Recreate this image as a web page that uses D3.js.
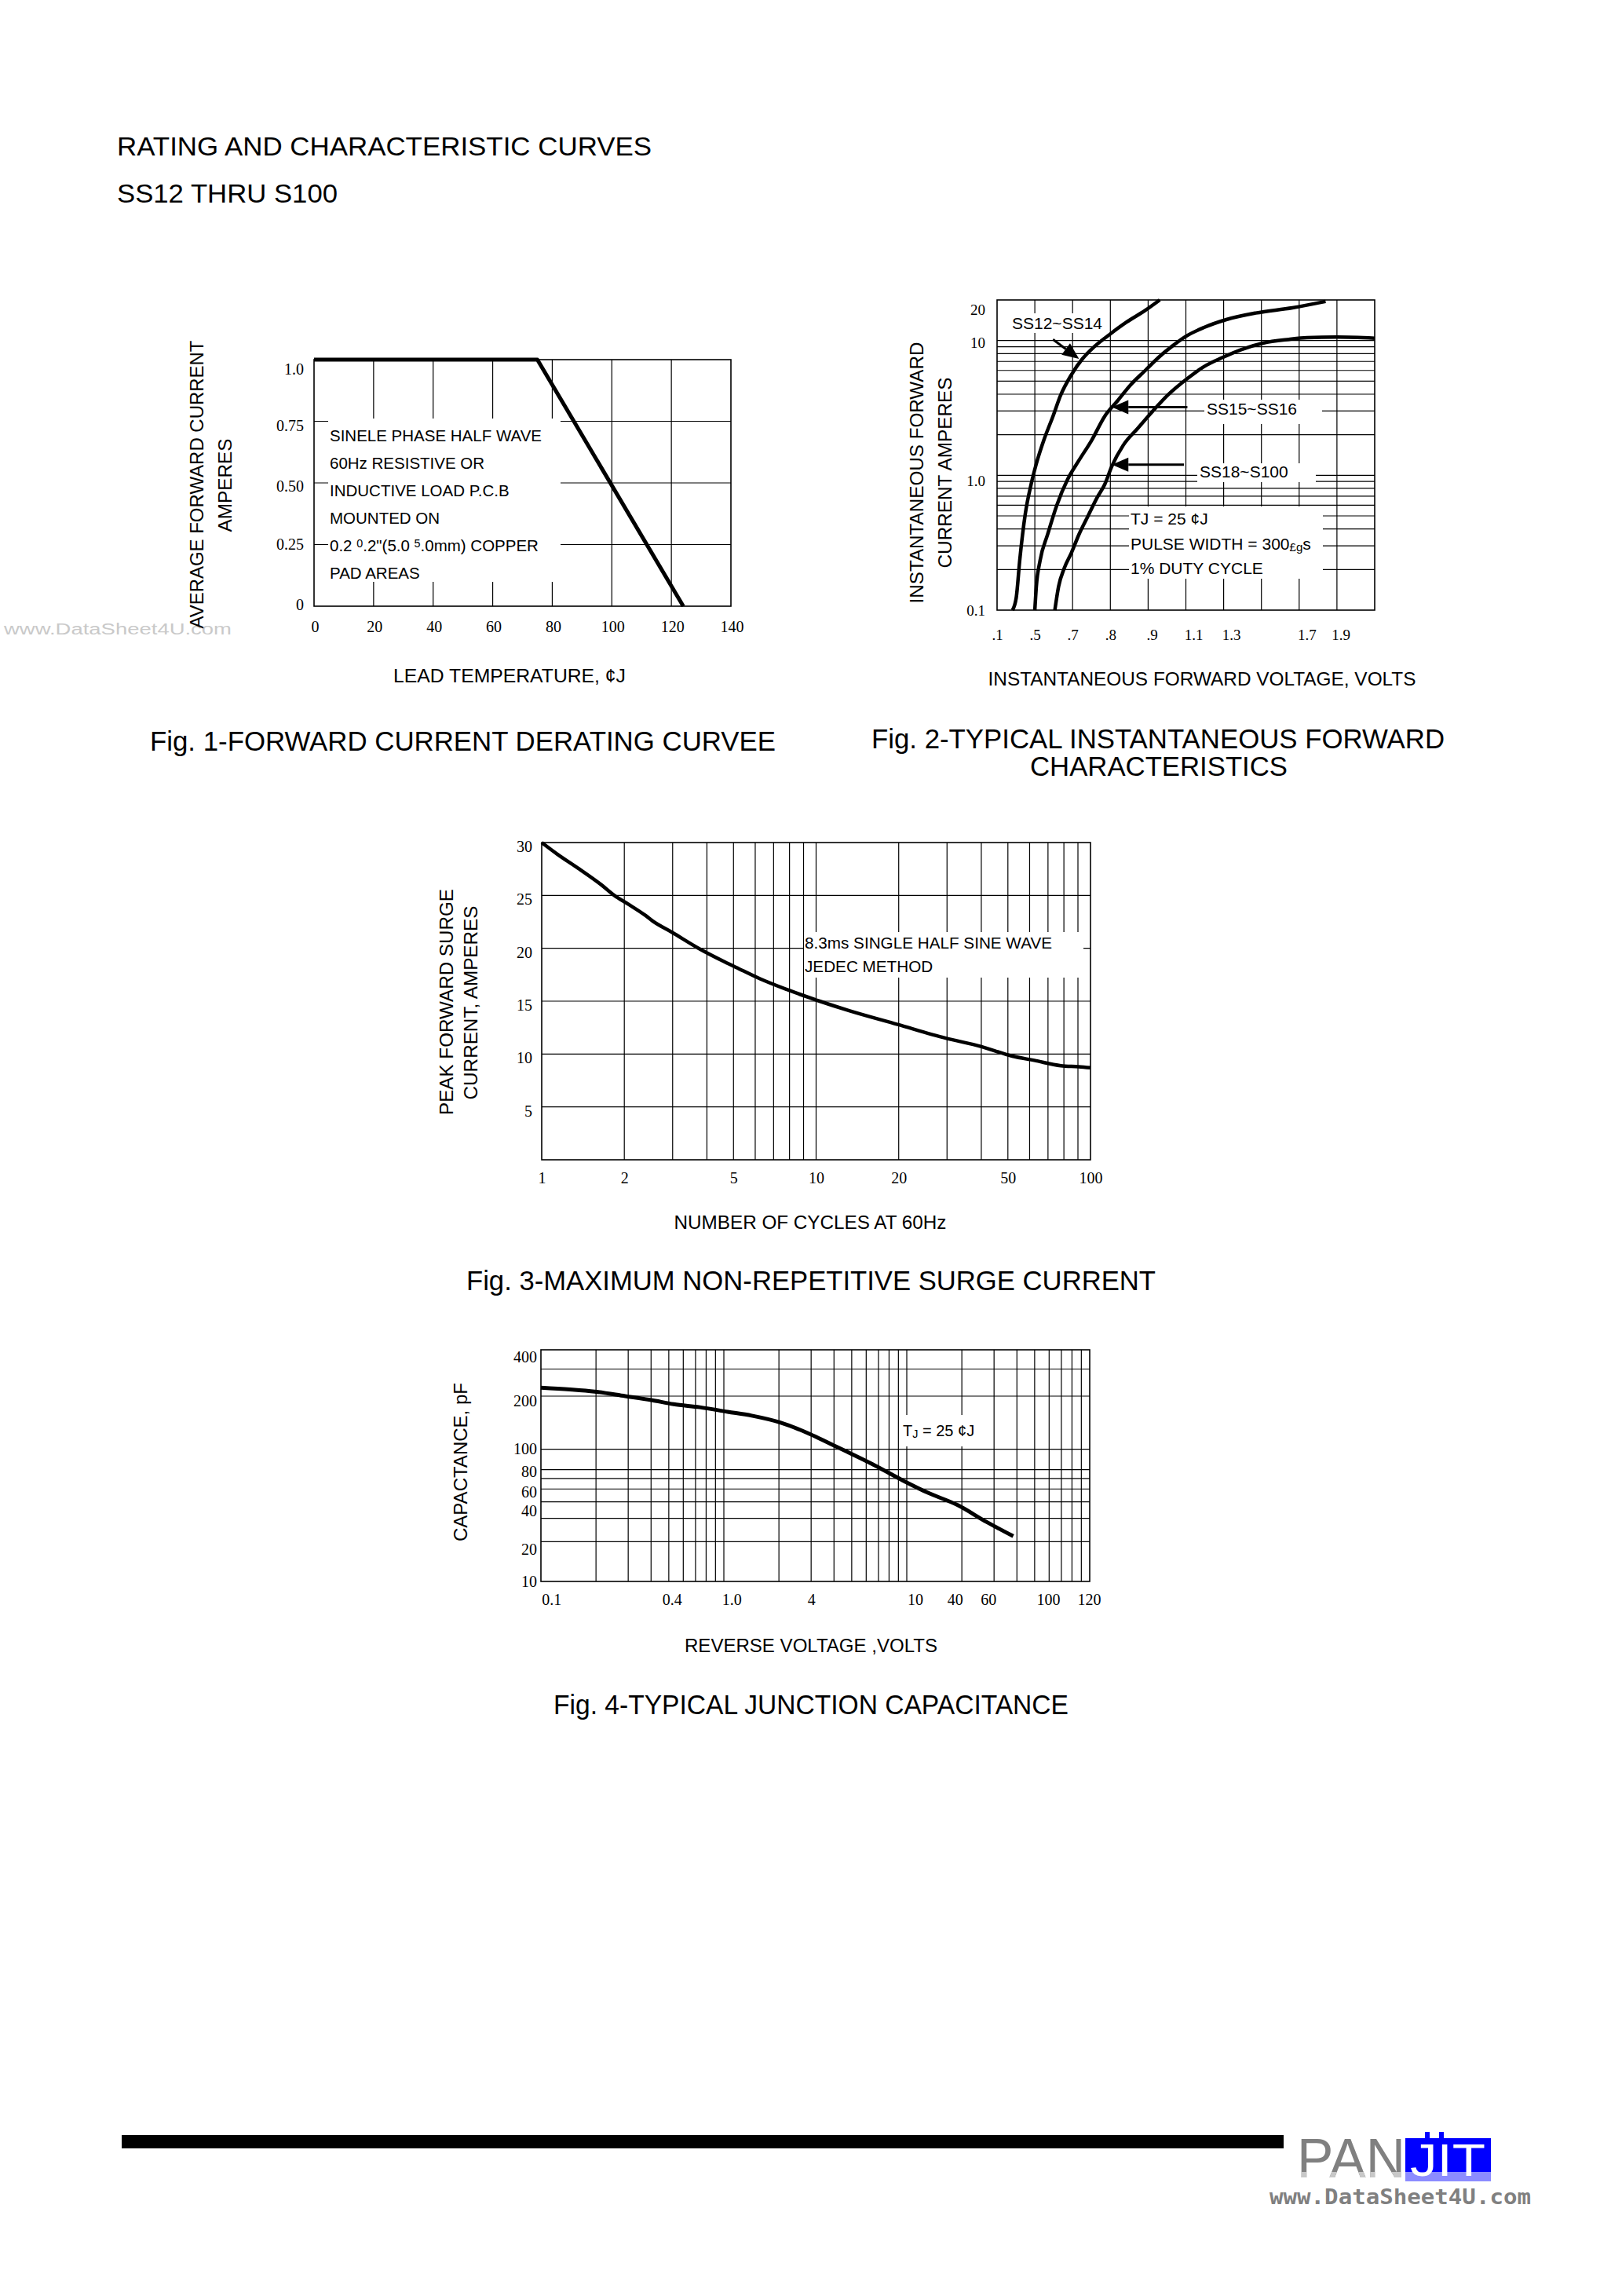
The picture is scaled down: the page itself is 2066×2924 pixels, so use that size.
<!DOCTYPE html>
<html><head><meta charset="utf-8">
<script src="https://cdn.jsdelivr.net/npm/d3@7/dist/d3.min.js"></script>
<style>body{margin:0;background:#fff}svg{display:block}</style>
</head><body>
<svg id="page" width="2066" height="2924"></svg>
<script>
// ================= DATA =================
const headerLines = ["RATING AND CHARACTERISTIC CURVES", "SS12 THRU S100"];
const watermark = "www.DataSheet4U.com";

// Fig 1 – forward current derating
const fig1Temperature = [0, 75, 124];
const fig1Current = [1.0, 1.0, 0];
const fig1XTicks = [0, 20, 40, 60, 80, 100, 120, 140];
const fig1YGrid = [0.25, 0.5, 0.75];
const fig1YTickPositions = [0.006, 0.252, 0.487, 0.732, 0.962];
const fig1YTickLabels = ["0", "0.25", "0.50", "0.75", "1.0"];
const fig1Note = [
  "SINELE PHASE HALF WAVE",
  "60Hz RESISTIVE OR",
  "INDUCTIVE LOAD P.C.B",
  "MOUNTED ON",
  [{t:"0.2  "},{t:"0",sup:true},{t:".2\"(5.0  "},{t:"5",sup:true},{t:".0mm) COPPER"}],
  "PAD AREAS"
];
const fig1XTitle = "LEAD TEMPERATURE, \u00A2J";
const fig1YTitle = ["AVERAGE FORWARD CURRENT", "AMPERES"];
const fig1Caption = "Fig. 1-FORWARD CURRENT DERATING CURVEE";

// Fig 2 – forward characteristics (x in grid divisions of the printed axis)
const fig2GridPositions = [1,2,3,4,5,6,7,8,9];
const fig2XTickPositions = [0, 1, 2, 3, 4.1, 5.2, 6.2, 8.2, 9.1];
const fig2XTickLabels = [".1", ".5", ".7", ".8", ".9", "1.1", "1.3", "1.7", "1.9"];
const fig2YTickPositions = [0.1, 0.914, 9.68, 17.0];
const fig2YTickLabels = ["0.1", "1.0", "10", "20"];
const fig2YGrid = [0.2,0.3,0.4,0.5,0.6,0.7,0.8,0.9,1,2,3,4,5,6,7,8,9,10];
const ss12X = [0.41,0.51,0.60,0.75,0.90,1.04,1.24,1.48,1.68,1.97,2.26,2.56,3.00,3.43,3.92,4.31];
const ss12Y = [0.1,0.125,0.234,0.523,0.855,1.22,1.83,2.74,3.91,5.59,7.31,8.93,11.2,13.7,16.7,20];
const ss15X = [1.00,1.04,1.14,1.34,1.58,1.87,2.16,2.51,2.85,3.19,3.53,3.92,4.31,4.65,4.99,5.48,6.07,6.85,7.82,8.70];
const ss15Y = [0.1,0.150,0.234,0.365,0.598,0.935,1.28,1.83,2.74,3.57,4.67,5.98,7.64,9.14,10.7,12.5,14.3,16.0,17.5,19.5];
const ss18X = [1.53,1.63,1.78,1.97,2.17,2.41,2.65,2.85,3.04,3.34,3.73,4.12,4.51,5.00,5.48,5.97,6.46,7.04,7.73,8.21,9.00,10.0];
const ss18Y = [0.1,0.150,0.205,0.267,0.365,0.5,0.684,0.855,1.17,1.67,2.24,2.99,3.91,5.12,6.40,7.48,8.55,9.57,10.2,10.5,10.6,10.4];
const fig2SeriesNames = ["SS12~SS14", "SS15~SS16", "SS18~S100"];
const fig2ArrowFrom = [[1.48,10.2],[5.04,3.2],[4.95,1.2]];
const fig2ArrowTo   = [[2.17,7.31],[3.04,3.2],[3.04,1.2]];
const fig2Note = ["TJ = 25 \u00A2J", [{t:"PULSE WIDTH = 300"},{t:"\u00A3g",small:true},{t:"s"}], "1% DUTY CYCLE"];
const fig2XTitle = "INSTANTANEOUS FORWARD VOLTAGE, VOLTS";
const fig2YTitle = ["INSTANTANEOUS FORWARD", "CURRENT AMPERES"];
const fig2Caption = ["Fig. 2-TYPICAL INSTANTANEOUS FORWARD", "CHARACTERISTICS"];

// Fig 3 – surge current
const fig3Cycles = [1,1.14,1.37,1.65,1.84,2.06,2.39,2.53,2.99,3.73,4.66,5.11,6.27,7.83,10.3,13.2,19.8,29.7,40,51.9,62.4,78,90.5,100];
const fig3Current = [30,28.9,27.5,26.0,25.0,24.2,23.1,22.6,21.5,20.0,18.7,18.2,17.1,16.1,15.0,14.1,12.8,11.5,10.7,9.8,9.4,8.9,8.8,8.7];
const fig3XTicks = [1, 2, 5, 10, 20, 50, 100];
const fig3YTicks = [5, 10, 15, 20, 25, 30];
const fig3XGrid = [2,3,4,5,6,7,8,9,10,20,30,40,50,60,70,80,90];
const fig3YGrid = [5, 10, 15, 20, 25];
const fig3Note = ["8.3ms SINGLE HALF SINE WAVE", "JEDEC METHOD"];
const fig3XTitle = "NUMBER OF CYCLES AT 60Hz";
const fig3YTitle = ["PEAK FORWARD SURGE", "CURRENT, AMPERES"];
const fig3Caption = "Fig. 3-MAXIMUM NON-REPETITIVE SURGE CURRENT";

// Fig 4 – junction capacitance
const fig4Voltage = [0.1,0.144,0.197,0.289,0.401,0.532,0.738,1.05,1.42,2.02,2.95,3.77,4.69,6.50,9.52,13.2,18.8,27.5,38.2];
const fig4Capacitance = [227,221,214,200,190,180,173,163,155,142,122,108,96,77,58,46.5,38,28,22];
const fig4YDomain = [10, 100, 200, 400];
const fig4YGrid = [20,30,40,50,60,70,100,200,300];
const fig4YTickPositions = [358, 187, 100, 67.8, 47.5, 34.2, 17.6, 10];
const fig4YTickLabels = ["400","200","100","80","60","40","20","10"];
const fig4XGrid = [0.2,0.3,0.4,0.5,0.6,0.7,0.8,0.9,1,2,3,4,5,6,7,8,9,10,20,30,40,50,60,70,80,90];
const fig4XTickPositions = [0.114,0.52,1.10,3.0,11.1,18.3,27.9,59.3,99];
const fig4XTickLabels = ["0.1","0.4","1.0","4","10","40","60","100","120"];
const fig4XTitle = "REVERSE VOLTAGE ,VOLTS";
const fig4YTitle = "CAPACTANCE, pF";
const fig4Caption = "Fig. 4-TYPICAL JUNCTION CAPACITANCE";

// ================= DRAWING =================
const SANS = "'Liberation Sans', Arial, Helvetica, sans-serif";
const SERIF = "'Liberation Serif', 'Times New Roman', serif";
const svg = d3.select("#page");
svg.append("rect").attr("width",2066).attr("height",2924).attr("fill","#fff");

function addText(g, x, y, s, o = {}) {
  const t = g.append("text").attr("x", x).attr("y", y)
    .attr("font-family", o.family || SANS).attr("font-size", o.size || 20)
    .attr("fill", o.fill || "#000").attr("text-anchor", o.anchor || "start");
  if (o.weight) t.attr("font-weight", o.weight);
  if (typeof s === "string") t.text(s);
  else s.forEach(seg => {
    const sp = t.append("tspan").text(seg.t);
    if (seg.sup) sp.attr("font-size", (o.size || 20) * 0.7).attr("baseline-shift", "35%");
    if (seg.small) sp.attr("font-size", (o.size || 20) * 0.72).attr("baseline-shift", "-12%");
  });
  if (o.len) t.attr("textLength", o.len).attr("lengthAdjust", "spacingAndGlyphs");
  return t;
}
function vTitle(g, cx, cy, s, len) {
  const t = g.append("text").attr("transform", `translate(${cx + 8.6},${cy}) rotate(-90)`)
    .attr("text-anchor", "middle").attr("font-family", SANS).attr("font-size", 24).text(s);
  if (len) t.attr("textLength", len).attr("lengthAdjust", "spacingAndGlyphs");
}
function gridV(g, vals, x, top, bottom) {
  g.append("g").selectAll("line").data(vals).join("line")
    .attr("x1", d => x(d)).attr("x2", d => x(d)).attr("y1", top).attr("y2", bottom)
    .attr("stroke", "#000").attr("stroke-width", 1.2);
}
function gridH(g, vals, y, left, right) {
  g.append("g").selectAll("line").data(vals).join("line")
    .attr("y1", d => y(d)).attr("y2", d => y(d)).attr("x1", left).attr("x2", right)
    .attr("stroke", "#000").attr("stroke-width", 1.2);
}
function frame(g, f) {
  g.append("rect").attr("x", f.left).attr("y", f.top).attr("width", f.right - f.left)
    .attr("height", f.bottom - f.top).attr("fill", "none").attr("stroke", "#000").attr("stroke-width", 1.6);
}
function whiteBox(g, x0, y0, x1, y1) {
  g.append("rect").attr("x", x0).attr("y", y0).attr("width", x1 - x0).attr("height", y1 - y0).attr("fill", "#fff");
}
function yLabels(g, scale, vals, labels, xRight, dy, size) {
  const a = g.append("g").attr("transform", `translate(${xRight},${dy})`)
    .call(d3.axisLeft(scale).tickValues(vals).tickFormat((d, i) => labels[i]).tickSize(0).tickPadding(0));
  a.select(".domain").remove();
  a.selectAll("text").attr("font-family", SERIF).attr("font-size", size).attr("fill", "#000");
}
function xLabels(g, scale, vals, labels, yTop, dx, pad, size) {
  const a = g.append("g").attr("transform", `translate(${dx},${yTop})`)
    .call(d3.axisBottom(scale).tickValues(vals).tickFormat((d, i) => labels[i]).tickSize(0).tickPadding(pad));
  a.select(".domain").remove();
  a.selectAll("text").attr("font-family", SERIF).attr("font-size", size).attr("fill", "#000");
}
function curve(g, xs, ys, x, y, w, c) {
  g.append("path").datum(d3.zip(xs, ys))
    .attr("d", d3.line().x(d => x(d[0])).y(d => y(d[1])).curve(c || d3.curveMonotoneX))
    .attr("fill", "none").attr("stroke", "#000").attr("stroke-width", w)
    .attr("stroke-linejoin", "round").attr("stroke-linecap", "butt");
}
function arrow(g, x1, y1, x2, y2) {
  const ang = Math.atan2(y2 - y1, x2 - x1), L = 21, W = 9;
  const bx = x2 - L * Math.cos(ang), by = y2 - L * Math.sin(ang);
  g.append("line").attr("x1", x1).attr("y1", y1).attr("x2", bx).attr("y2", by)
    .attr("stroke", "#000").attr("stroke-width", 3);
  const px = -Math.sin(ang) * W, py = Math.cos(ang) * W;
  g.append("path").attr("d", `M${x2},${y2}L${bx + px},${by + py}L${bx - px},${by - py}Z`).attr("fill", "#000");
}

// ---------- header & watermark ----------
addText(svg, 149, 198, headerLines[0], {size: 34, len: 681});
addText(svg, 149, 258, headerLines[1], {size: 34, len: 281});
addText(svg, 5, 808, watermark, {size: 20, fill: "#c9c9c9", len: 290});

// ---------- Fig 1 ----------
{
  const g = svg.append("g");
  const f = {left: 400, right: 931, top: 458, bottom: 772};
  const x = d3.scaleLinear().domain([0, 140]).range([f.left, f.right]);
  const y = d3.scaleLinear().domain([0, 1]).range([f.bottom, f.top]);
  gridV(g, fig1XTicks.slice(1, -1), x, f.top, f.bottom);
  gridH(g, fig1YGrid, y, f.left, f.right);
  frame(g, f);
  whiteBox(g, 418, 533, 714, 741);
  fig1Note.forEach((ln, i) => addText(g, 420, 562.4 + i * 34.9, ln, {size: 20.5}));
  yLabels(g, y, fig1YTickPositions, fig1YTickLabels, 387, 0, 20);
  xLabels(g, x, fig1XTicks, fig1XTicks.map(String), f.bottom, 1, 19, 20);
  curve(g, fig1Temperature, fig1Current, x, y, 5, d3.curveLinear);
  vTitle(g, 250, 617, fig1YTitle[0], 367);
  vTitle(g, 286, 618, fig1YTitle[1], 119);
  addText(g, 649, 868.6, fig1XTitle, {size: 24, anchor: "middle", len: 296});
  addText(g, 589.5, 956, fig1Caption, {size: 35, anchor: "middle", len: 797});
}

// ---------- Fig 2 ----------
{
  const g = svg.append("g");
  const f = {left: 1270, right: 1751, top: 382, bottom: 777};
  const x = d3.scaleLinear().domain([0, 10]).range([f.left, f.right]);
  const y = d3.scaleLog().domain([0.1, 20]).range([f.bottom, f.top]);
  gridV(g, fig2GridPositions, x, f.top, f.bottom);
  gridH(g, fig2YGrid, y, f.left, f.right);
  frame(g, f);
  whiteBox(g, 1287, 399, 1406, 424);
  whiteBox(g, 1534, 509, 1684, 540);
  whiteBox(g, 1525, 590, 1676, 614);
  whiteBox(g, 1438, 645, 1685, 737);
  addText(g, 1289, 418.5, fig2SeriesNames[0], {size: 21});
  addText(g, 1537, 528, fig2SeriesNames[1], {size: 21});
  addText(g, 1528, 608, fig2SeriesNames[2], {size: 21});
  fig2Note.forEach((ln, i) => addText(g, 1440, 668 + i * 31.7, ln, {size: 21}));
  yLabels(g, y, fig2YTickPositions, fig2YTickLabels, 1255, 0, 19);
  xLabels(g, x, fig2XTickPositions, fig2XTickLabels, f.bottom, 0, 25, 19);
  curve(g, ss12X, ss12Y, x, y, 4.5);
  curve(g, ss15X, ss15Y, x, y, 4.5);
  curve(g, ss18X, ss18Y, x, y, 4.5);
  fig2ArrowFrom.forEach((a, i) => arrow(g, x(a[0]), y(a[1]), x(fig2ArrowTo[i][0]), y(fig2ArrowTo[i][1])));
  vTitle(g, 1167, 602, fig2YTitle[0], 333);
  vTitle(g, 1203, 602, fig2YTitle[1], 243);
  addText(g, 1531, 872.6, fig2XTitle, {size: 24, anchor: "middle", len: 545});
  addText(g, 1475, 953, fig2Caption[0], {size: 35, anchor: "middle", len: 730});
  addText(g, 1476, 988, fig2Caption[1], {size: 35, anchor: "middle", len: 328});
}

// ---------- Fig 3 ----------
{
  const g = svg.append("g");
  const f = {left: 690, right: 1389, top: 1073, bottom: 1477};
  const x = d3.scaleLog().domain([1, 100]).range([f.left, f.right]);
  const y = d3.scaleLinear().domain([0, 30]).range([f.bottom, f.top]);
  gridV(g, fig3XGrid, x, f.top, f.bottom);
  gridH(g, fig3YGrid, y, f.left, f.right);
  frame(g, f);
  whiteBox(g, 1024, 1187, 1380, 1245);
  fig3Note.forEach((ln, i) => addText(g, 1025, 1207.5 + i * 30.7, ln, {size: 20.7}));
  yLabels(g, y, fig3YTicks, fig3YTicks.map(String), 678, 5, 20);
  xLabels(g, x, fig3XTicks, fig3XTicks.map(String), f.bottom, 0, 16, 20);
  curve(g, fig3Cycles, fig3Current, x, y, 4.5);
  vTitle(g, 568, 1276, fig3YTitle[0], 288);
  vTitle(g, 599, 1277, fig3YTitle[1], 247);
  addText(g, 1032, 1565.3, fig3XTitle, {size: 24, anchor: "middle", len: 347});
  addText(g, 1033, 1643, fig3Caption, {size: 35, anchor: "middle", len: 878});
}

// ---------- Fig 4 ----------
{
  const g = svg.append("g");
  const f = {left: 689, right: 1388, top: 1719, bottom: 2014};
  const h = f.bottom - f.top;
  const x = d3.scaleLog().domain([0.1, 100]).range([f.left, f.right]);
  const yStops = [0, 0.571, 0.80, 1];
  const y = d3.scaleLog().domain(fig4YDomain).range(yStops.map(p => f.bottom - p * h));
  gridV(g, fig4XGrid, x, f.top, f.bottom);
  gridH(g, fig4YGrid, y, f.left, f.right);
  frame(g, f);
  whiteBox(g, 1147, 1802, 1250, 1842);
  addText(g, 1150, 1829, [{t:"T"},{t:"J",small:true},{t:"  = 25 \u00A2J"}], {size: 20});
  yLabels(g, y, fig4YTickPositions, fig4YTickLabels, 684, 0, 20);
  xLabels(g, x, fig4XTickPositions, fig4XTickLabels, f.bottom, 0, 16, 20);
  curve(g, fig4Voltage, fig4Capacitance, x, y, 5);
  vTitle(g, 586, 1862, fig4YTitle, 202);
  addText(g, 1033, 2103.6, fig4XTitle, {size: 24, anchor: "middle", len: 322});
  addText(g, 1033, 2183, fig4Caption, {size: 35, anchor: "middle", len: 656});
}

// ---------- footer ----------
{
  const g = svg.append("g");
  g.append("rect").attr("x", 155).attr("y", 2719).attr("width", 1480).attr("height", 17).attr("fill", "#000");
  const defs = svg.append("defs");
  defs.append("clipPath").attr("id", "lowband").append("rect").attr("x", 1600).attr("y", 2766).attr("width", 400).attr("height", 20);
  addText(g, 1652, 2773, "PAN", {size: 70, fill: "#808080", len: 138});
  addText(g, 1652, 2773, "PAN", {size: 70, fill: "#c8c8c8", len: 138}).attr("clip-path", "url(#lowband)");
  g.append("rect").attr("x", 1790).attr("y", 2723).attr("width", 109).attr("height", 43).attr("fill", "#0000ff");
  g.append("rect").attr("x", 1790).attr("y", 2766).attr("width", 109).attr("height", 12).attr("fill", "#8c8cff");
  g.append("rect").attr("x", 1815).attr("y", 2715).attr("width", 6).attr("height", 8).attr("fill", "#0000ff");
  g.append("rect").attr("x", 1833).attr("y", 2715).attr("width", 6).attr("height", 8).attr("fill", "#0000ff");
  addText(g, 1796, 2771, "JIT", {size: 57, fill: "#fff", len: 96});
  addText(g, 1617, 2807, watermark, {size: 26, fill: "#808080", weight: "bold", family: "'DejaVu Sans Mono', monospace", len: 333});
}
</script>
</body></html>
